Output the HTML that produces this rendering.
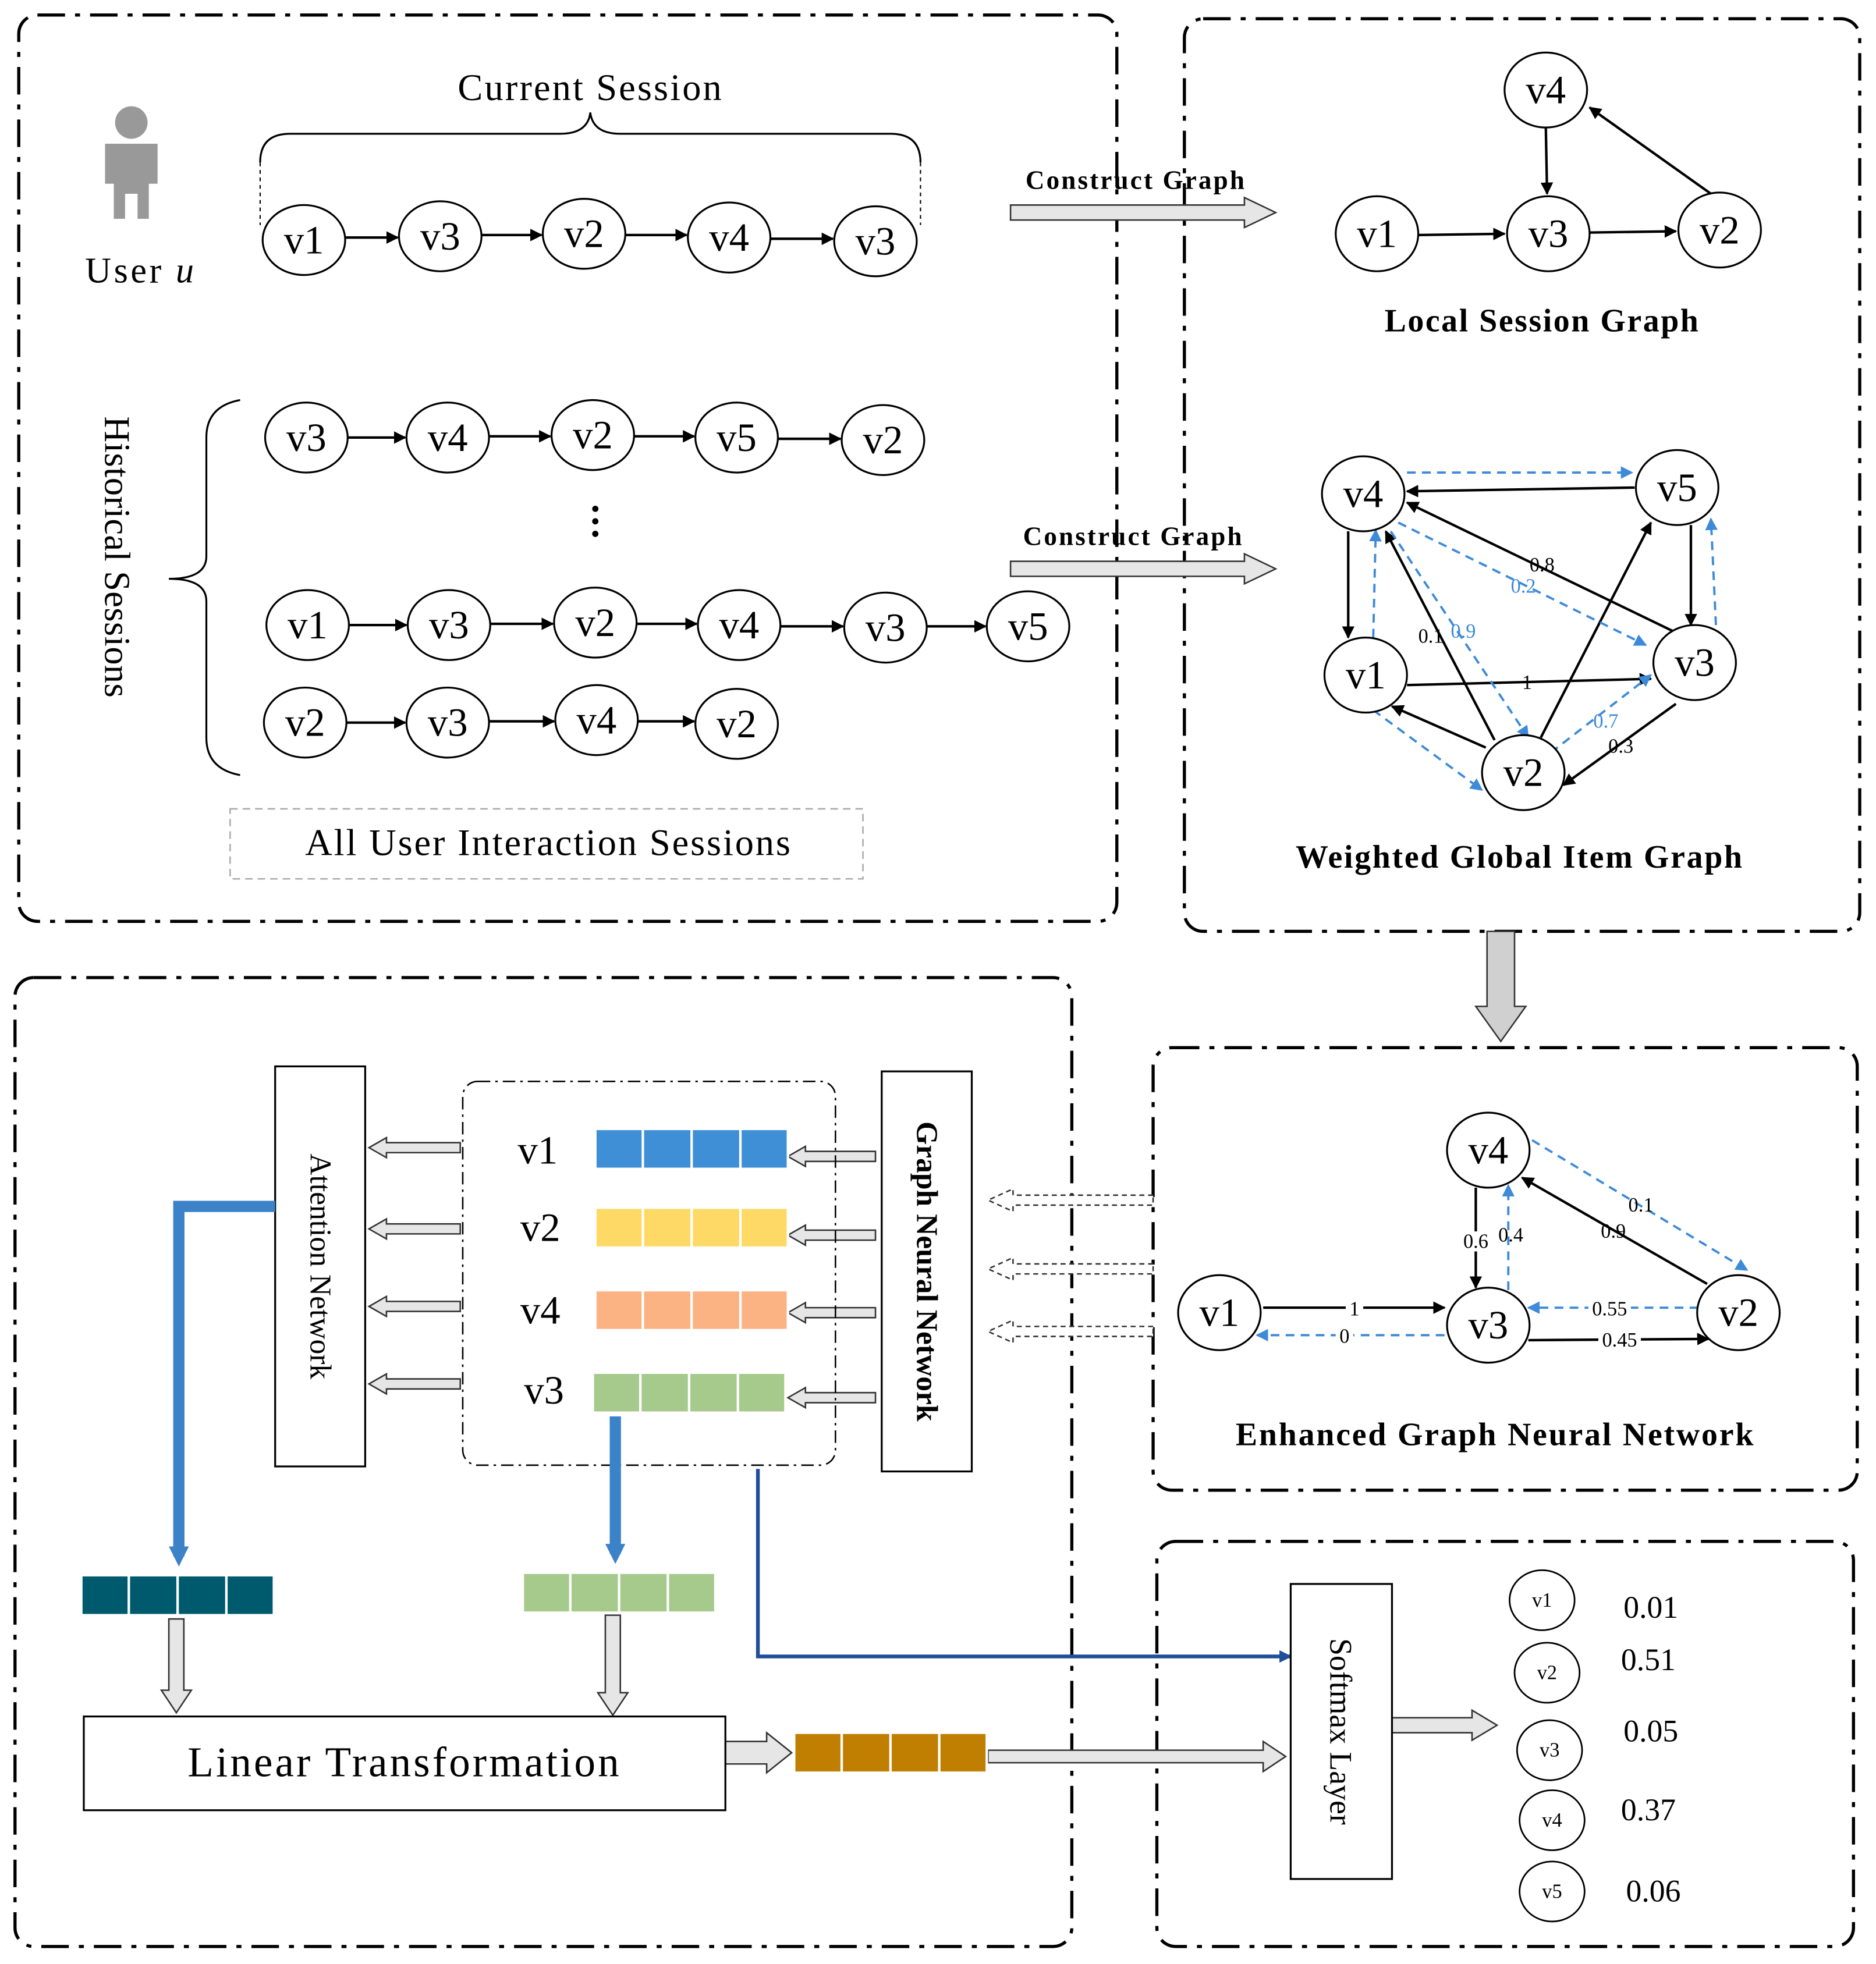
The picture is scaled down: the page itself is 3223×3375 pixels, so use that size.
<!DOCTYPE html>
<html><head><meta charset="utf-8"><style>
html,body{margin:0;padding:0;background:#fff;}
svg{display:block;}
text{font-family:"Liberation Serif",serif;}
.n{font-size:32px;text-anchor:middle;dominant-baseline:central;}
.s{font-family:"Liberation Sans",sans-serif;font-size:16px;text-anchor:middle;dominant-baseline:central;}
.b{font-weight:bold;font-size:26px;text-anchor:middle;}
</style></head><body>
<svg width="3223" height="3375" viewBox="0 0 1500 1571" preserveAspectRatio="none" xmlns="http://www.w3.org/2000/svg">
<defs>
<marker id="ak" markerWidth="10" markerHeight="10" refX="9" refY="5" orient="auto" markerUnits="userSpaceOnUse" viewBox="0 0 10 10"><path d="M0,0 L10,5 L0,10 z" fill="#000"/></marker>
<marker id="ab" markerWidth="10" markerHeight="10" refX="9" refY="5" orient="auto" markerUnits="userSpaceOnUse" viewBox="0 0 10 10"><path d="M0,0 L10,5 L0,10 z" fill="#3d8ad8"/></marker>
<marker id="bb" markerWidth="16" markerHeight="16" refX="8" refY="8" orient="auto" markerUnits="userSpaceOnUse" viewBox="0 0 16 16"><path d="M0,0 L16,8 L0,16 z" fill="#3b82c8"/></marker>
<marker id="db" markerWidth="10" markerHeight="10" refX="9" refY="5" orient="auto" markerUnits="userSpaceOnUse" viewBox="0 0 10 10"><path d="M0,0 L10,5 L0,10 z" fill="#1f4e9a"/></marker>
</defs>
<g fill="none" stroke="#000" stroke-width="2.5" stroke-dasharray="22,8,4,8">
<rect x="15" y="12" width="878" height="725" rx="15"/>
<rect x="947" y="15" width="540" height="730" rx="15"/>
<rect x="12" y="782" width="845" height="775" rx="15"/>
<rect x="922" y="838" width="563" height="354" rx="15"/>
<rect x="925" y="1233" width="557" height="324" rx="15"/>
</g>
<g fill="#999"><circle cx="105" cy="98" r="13"/><path d="M84,115 h42 v32 h-7 v28 h-9 v-20 h-10 v20 h-9 v-28 h-7 z"/></g>
<text x="68" y="226" font-size="29" textLength="87" lengthAdjust="spacing">User <tspan font-style="italic">u</tspan></text>
<text x="366" y="80" font-size="30" textLength="211" lengthAdjust="spacing">Current Session</text>
<path d="M208,130 Q208,107 232,107 L448,107 Q470,107 472,90 Q474,107 496,107 L712,107 Q736,107 736,130" fill="none" stroke="#000" stroke-width="1.5"/>
<path d="M208,130 V180 M736,130 V180" stroke="#000" stroke-width="1" stroke-dasharray="3,3"/>
<g fill="#fff" stroke="#000" stroke-width="1.5">
<ellipse cx="243" cy="192" rx="33" ry="28"/><ellipse cx="352" cy="189" rx="33" ry="28"/><ellipse cx="467" cy="187" rx="33" ry="28"/><ellipse cx="583" cy="190" rx="33" ry="28"/><ellipse cx="700" cy="193" rx="33" ry="28"/>
<ellipse cx="245" cy="350" rx="33" ry="28"/><ellipse cx="358" cy="350" rx="33" ry="28"/><ellipse cx="474" cy="348" rx="33" ry="28"/><ellipse cx="589" cy="350" rx="33" ry="28"/><ellipse cx="706" cy="352" rx="33" ry="28"/>
<ellipse cx="246" cy="500" rx="33" ry="28"/><ellipse cx="359" cy="500" rx="33" ry="28"/><ellipse cx="476" cy="498" rx="33" ry="28"/><ellipse cx="591" cy="500" rx="33" ry="28"/><ellipse cx="708" cy="502" rx="33" ry="28"/><ellipse cx="822" cy="501" rx="33" ry="28"/>
<ellipse cx="244" cy="578" rx="33" ry="28"/><ellipse cx="358" cy="578" rx="33" ry="28"/><ellipse cx="477" cy="576" rx="33" ry="28"/><ellipse cx="589" cy="579" rx="33" ry="28"/>
</g>
<g class="n">
<text x="243" y="192">v1</text><text x="352" y="189">v3</text><text x="467" y="187">v2</text><text x="583" y="190">v4</text><text x="700" y="193">v3</text>
<text x="245" y="350">v3</text><text x="358" y="350">v4</text><text x="474" y="348">v2</text><text x="589" y="350">v5</text><text x="706" y="352">v2</text>
<text x="246" y="500">v1</text><text x="359" y="500">v3</text><text x="476" y="498">v2</text><text x="591" y="500">v4</text><text x="708" y="502">v3</text><text x="822" y="501">v5</text>
<text x="244" y="578">v2</text><text x="358" y="578">v3</text><text x="477" y="576">v4</text><text x="589" y="579">v2</text>
</g>
<g stroke="#000" stroke-width="2" marker-end="url(#ak)">
<line x1="276" y1="190" x2="318" y2="190"/><line x1="385" y1="188" x2="433" y2="188"/><line x1="500" y1="188" x2="549" y2="188"/><line x1="616" y1="191" x2="666" y2="191"/>
<line x1="278" y1="350" x2="324" y2="350"/><line x1="391" y1="349" x2="440" y2="349"/><line x1="507" y1="349" x2="555" y2="349"/><line x1="622" y1="351" x2="672" y2="351"/>
<line x1="279" y1="500" x2="325" y2="500"/><line x1="392" y1="499" x2="442" y2="499"/><line x1="509" y1="499" x2="557" y2="499"/><line x1="624" y1="501" x2="674" y2="501"/><line x1="741" y1="501" x2="788" y2="501"/>
<line x1="277" y1="578" x2="324" y2="578"/><line x1="391" y1="577" x2="443" y2="577"/><line x1="510" y1="577" x2="555" y2="577"/>
</g>
<g fill="#000"><circle cx="476" cy="407" r="2.5"/><circle cx="476" cy="417" r="2.5"/><circle cx="476" cy="427" r="2.5"/></g>
<path d="M192,320 Q165,325 165,350 L165,445 Q165,463 135,463 Q165,463 165,481 L165,590 Q165,615 192,620" fill="none" stroke="#000" stroke-width="1.5"/>
<text transform="translate(84,333) rotate(90)" font-size="29" textLength="225" lengthAdjust="spacing">Historical Sessions</text>
<rect x="184" y="647" width="506" height="56" fill="none" stroke="#aaa" stroke-width="1.2" stroke-dasharray="6,4"/>
<text x="244" y="684" font-size="30" textLength="388" lengthAdjust="spacing">All User Interaction Sessions</text>
<g fill="#e6e6e6" stroke="#333" stroke-width="1.2">
<polygon points="808,164 995,164 995,158 1020,170 995,182 995,176 808,176"/>
<polygon points="808,449 995,449 995,443 1020,455 995,467 995,461 808,461"/>
<polygon points="1189,745 1211,745 1211,805 1220,805 1200,833 1180,805 1189,805" fill="#d0d0d0"/>
<polygon points="700,921 644,921 644,917 630,925 644,933 644,929 700,929"/>
<polygon points="700,984 644,984 644,980 630,988 644,996 644,992 700,992"/>
<polygon points="700,1046 644,1046 644,1042 630,1050 644,1058 644,1054 700,1054"/>
<polygon points="700,1114 644,1114 644,1110 630,1118 644,1126 644,1122 700,1122"/>
<polygon points="368,914 309,914 309,910 295,918 309,926 309,922 368,922"/>
<polygon points="368,979 309,979 309,975 295,983 309,991 309,987 368,987"/>
<polygon points="368,1041 309,1041 309,1037 295,1045 309,1053 309,1049 368,1049"/>
<polygon points="368,1103 309,1103 309,1099 295,1107 309,1115 309,1111 368,1111"/>
<polygon points="135,1295 147,1295 147,1352 153,1352 141,1370 129,1352 135,1352"/>
<polygon points="484,1292 496,1292 496,1354 502,1354 490,1372 478,1354 484,1354"/>
<polygon points="580,1393 613,1393 613,1386 633,1402 613,1418 613,1411 580,1411"/>
<polygon points="790,1400 1010,1400 1010,1393 1028,1405 1010,1417 1010,1410 790,1410"/>
<polygon points="1113,1374 1177,1374 1177,1368 1197,1380 1177,1392 1177,1386 1113,1386"/>
</g>
<g fill="#fff" stroke="#333" stroke-width="1.2" stroke-dasharray="4,3">
<polygon points="922,956 810,956 810,951 790,960 810,969 810,964 922,964"/>
<polygon points="922,1011 810,1011 810,1006 790,1015 810,1024 810,1019 922,1019"/>
<polygon points="922,1061 810,1061 810,1056 790,1065 810,1074 810,1069 922,1069"/>
</g>
<text x="820" y="151" font-size="21" font-weight="bold" textLength="175" lengthAdjust="spacing">Construct Graph</text>
<text x="818" y="436" font-size="21" font-weight="bold" textLength="175" lengthAdjust="spacing">Construct Graph</text>
<g fill="#fff" stroke="#000" stroke-width="1.5">
<ellipse cx="1236" cy="72" rx="33" ry="30"/><ellipse cx="1101" cy="187" rx="33" ry="30"/><ellipse cx="1238" cy="187" rx="33" ry="30"/><ellipse cx="1375" cy="184" rx="33" ry="30"/>
</g>
<g class="n"><text x="1236" y="72">v4</text><text x="1101" y="187">v1</text><text x="1238" y="187">v3</text><text x="1375" y="184">v2</text></g>
<g stroke="#000" stroke-width="2" marker-end="url(#ak)">
<line x1="1134" y1="188" x2="1203" y2="187"/><line x1="1271" y1="186" x2="1340" y2="185"/><line x1="1236" y1="102" x2="1237" y2="155"/><line x1="1368" y1="155" x2="1271" y2="86"/>
</g>
<text x="1107" y="265" class="b" text-anchor="start" style="text-anchor:start" textLength="251" lengthAdjust="spacing">Local Session Graph</text>
<g stroke="#000" stroke-width="2" marker-end="url(#ak)" fill="none">
<line x1="1307" y1="390" x2="1125" y2="393"/>
<line x1="1078" y1="425" x2="1078" y2="510"/>
<line x1="1338" y1="505" x2="1125" y2="402"/>
<line x1="1352" y1="420" x2="1352" y2="500"/>
<line x1="1195" y1="592" x2="1108" y2="425"/>
<line x1="1125" y1="548" x2="1320" y2="543"/>
<line x1="1232" y1="590" x2="1320" y2="418"/>
<line x1="1188" y1="598" x2="1113" y2="565"/>
<line x1="1340" y1="563" x2="1250" y2="628"/>
</g>
<g stroke="#3d8ad8" stroke-width="1.8" stroke-dasharray="7,5" marker-end="url(#ab)" fill="none">
<line x1="1125" y1="378" x2="1305" y2="378"/>
<line x1="1118" y1="418" x2="1316" y2="516"/>
<line x1="1098" y1="510" x2="1100" y2="424"/>
<line x1="1112" y1="425" x2="1222" y2="590"/>
<line x1="1098" y1="568" x2="1185" y2="632"/>
<line x1="1240" y1="602" x2="1320" y2="540"/>
<line x1="1372" y1="500" x2="1368" y2="415"/>
</g>
<g fill="#fff" stroke="#000" stroke-width="1.5">
<ellipse cx="1090" cy="395" rx="33" ry="30"/><ellipse cx="1341" cy="390" rx="33" ry="30"/><ellipse cx="1092" cy="540" rx="33" ry="30"/><ellipse cx="1355" cy="530" rx="33" ry="30"/><ellipse cx="1218" cy="618" rx="33" ry="30"/>
</g>
<g class="n"><text x="1090" y="395">v4</text><text x="1341" y="390">v5</text><text x="1092" y="540">v1</text><text x="1355" y="530">v3</text><text x="1218" y="618">v2</text></g>
<g class="s"><text x="1233" y="452">0.8</text><text x="1144" y="509">0.1</text><text x="1221" y="546">1</text><text x="1296" y="597">0.3</text></g>
<g class="s" fill="#3d8ad8"><text x="1218" y="469">0.2</text><text x="1170" y="505">0.9</text><text x="1284" y="577">0.7</text></g>
<text x="1036" y="694" class="b" style="text-anchor:start" textLength="357" lengthAdjust="spacing">Weighted Global Item Graph</text>
<g stroke="#000" stroke-width="2" marker-end="url(#ak)">
<line x1="1180" y1="950" x2="1180" y2="1030"/>
<line x1="1365" y1="1027" x2="1217" y2="942"/>
<line x1="1010" y1="1046" x2="1155" y2="1046"/>
<line x1="1222" y1="1072" x2="1366" y2="1071"/>
</g>
<g stroke="#3d8ad8" stroke-width="1.8" stroke-dasharray="7,5" marker-end="url(#ab)">
<line x1="1206" y1="1032" x2="1206" y2="948"/>
<line x1="1225" y1="912" x2="1397" y2="1016"/>
<line x1="1358" y1="1046" x2="1222" y2="1046"/>
<line x1="1155" y1="1068" x2="1005" y2="1068"/>
</g>
<g fill="#fff" stroke="#000" stroke-width="1.5">
<ellipse cx="1190" cy="920" rx="33" ry="30"/><ellipse cx="975" cy="1050" rx="33" ry="30"/><ellipse cx="1190" cy="1060" rx="33" ry="30"/><ellipse cx="1390" cy="1050" rx="33" ry="30"/>
</g>
<g class="n"><text x="1190" y="920">v4</text><text x="975" y="1050">v1</text><text x="1190" y="1060">v3</text><text x="1390" y="1050">v2</text></g>
<g class="s" fill="#000">
<rect x="1166" y="985" width="26" height="16" fill="#fff"/><text x="1180" y="993">0.6</text><text x="1208" y="988">0.4</text><text x="1290" y="985">0.9</text><text x="1312" y="964">0.1</text>
<rect x="1076" y="1039" width="14" height="16" fill="#fff"/><text x="1083" y="1047">1</text>
<rect x="1068" y="1061" width="14" height="16" fill="#fff"/><text x="1075" y="1069">0</text>
<rect x="1270" y="1039" width="34" height="16" fill="#fff"/><text x="1287" y="1047">0.55</text>
<rect x="1278" y="1065" width="34" height="16" fill="#fff"/><text x="1295" y="1072">0.45</text>
</g>
<text x="988" y="1156" class="b" style="text-anchor:start" textLength="414" lengthAdjust="spacing">Enhanced Graph Neural Network</text>
<rect x="220" y="853" width="72" height="320" fill="#fff" stroke="#000" stroke-width="1.5"/>
<text transform="translate(256,1013) rotate(90)" font-size="24" text-anchor="middle" dominant-baseline="central">Attention Network</text>
<rect x="705" y="857" width="72" height="320" fill="#fff" stroke="#000" stroke-width="1.5"/>
<text transform="translate(741,1017) rotate(90)" font-size="24" font-weight="bold" text-anchor="middle" dominant-baseline="central">Graph Neural Network</text>
<rect x="370" y="865" width="298" height="307" rx="12" fill="none" stroke="#000" stroke-width="1.2" stroke-dasharray="10,4,2,4"/>
<g class="n"><text x="430" y="920">v1</text><text x="432" y="982">v2</text><text x="432" y="1048">v4</text><text x="435" y="1112">v3</text></g>
<g stroke="#fff" stroke-width="2">
<rect x="476" y="903" width="154" height="32" fill="#3f8fd6"/>
<rect x="476" y="966" width="154" height="32" fill="#ffd966"/>
<rect x="476" y="1032" width="154" height="32" fill="#fbb384"/>
<rect x="474" y="1098" width="154" height="32" fill="#a6c98c"/>
<rect x="65" y="1260" width="154" height="32" fill="#005a6e"/>
<rect x="418" y="1258" width="154" height="32" fill="#a6c98c"/>
<rect x="635" y="1386" width="154" height="32" fill="#c07f00"/>
<path d="M514,903v32M553,903v32M592,903v32M514,966v32M553,966v32M592,966v32M514,1032v32M553,1032v32M592,1032v32M512,1098v32M551,1098v32M590,1098v32M103,1260v32M142,1260v32M181,1260v32M456,1258v32M495,1258v32M534,1258v32M673,1386v32M712,1386v32M751,1386v32"/>
</g>
<path d="M220,965 H143 V1245" fill="none" stroke="#3b82c8" stroke-width="9" marker-end="url(#bb)"/>
<path d="M492,1133 V1243" fill="none" stroke="#3b82c8" stroke-width="9" marker-end="url(#bb)"/>
<path d="M606,1175 V1325 H1032" fill="none" stroke="#1f4e9a" stroke-width="3" marker-end="url(#db)"/>
<rect x="67" y="1373" width="513" height="75" fill="#fff" stroke="#000" stroke-width="1.5"/>
<text x="150" y="1421" font-size="34" textLength="345" lengthAdjust="spacing">Linear Transformation</text>
<rect x="1032" y="1267" width="81" height="236" fill="#fff" stroke="#000" stroke-width="1.5"/>
<text transform="translate(1072,1385) rotate(90)" font-size="25" text-anchor="middle" dominant-baseline="central">Softmax Layer</text>
<g fill="#fff" stroke="#000" stroke-width="1.3">
<ellipse cx="1233" cy="1280" rx="26" ry="24"/><ellipse cx="1237" cy="1338" rx="26" ry="24"/><ellipse cx="1239" cy="1400" rx="26" ry="24"/><ellipse cx="1241" cy="1456" rx="26" ry="24"/><ellipse cx="1241" cy="1513" rx="26" ry="24"/>
</g>
<g font-size="16" text-anchor="middle" dominant-baseline="central">
<text x="1233" y="1280">v1</text><text x="1237" y="1338">v2</text><text x="1239" y="1400">v3</text><text x="1241" y="1456">v4</text><text x="1241" y="1513">v5</text>
</g>
<g font-size="25" text-anchor="middle">
<text x="1320" y="1294">0.01</text><text x="1318" y="1336">0.51</text><text x="1320" y="1393">0.05</text><text x="1318" y="1456">0.37</text><text x="1322" y="1521">0.06</text>
</g>
</svg>
</body></html>
